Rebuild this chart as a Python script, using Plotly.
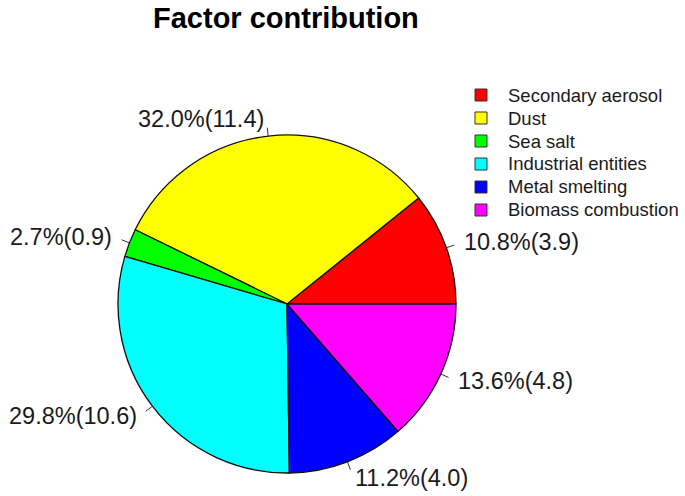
import math
import plotly.graph_objects as go

factors = ["Secondary aerosol", "Dust", "Sea salt", "Industrial entities",
           "Metal smelting", "Biomass combustion"]
pct = [10.8, 32.0, 2.7, 29.8, 11.2, 13.6]
conc = [3.9, 11.4, 0.9, 10.6, 4.0, 4.8]
colors = ["#FF0000", "#FFFF00", "#00FF00", "#00FFFF", "#0000FF", "#FF00FF"]

W, H = 685, 496
CX, CY, R = 287, 304, 169
FONT = "Liberation Sans, Arial, sans-serif"

total = sum(pct)

fig = go.Figure()
fig.add_trace(go.Pie(
    labels=factors, values=pct, sort=False, direction="counterclockwise",
    rotation=90 - 360 * pct[0] / total,
    marker=dict(colors=colors, line=dict(color="#111111", width=1.3)),
    textinfo="none", hoverinfo="label+percent", showlegend=False,
    domain=dict(x=[(CX - R) / W, (CX + R) / W], y=[1 - (CY + R) / H, 1 - (CY - R) / H]),
))


def px(x):
    return x / W


def py(y):
    return 1 - y / H


cum = 0.0
annotations = []
shapes = []
for f, p, c in zip(factors, pct, conc):
    mid = (cum + p / 2) / total * 2 * math.pi
    cum += p
    cx, sy = math.cos(mid), math.sin(mid)
    x0, y0 = CX + R * cx, CY - R * sy
    x1, y1 = CX + 1.05 * R * cx, CY - 1.05 * R * sy
    x2, y2 = CX + 1.1 * R * cx, CY - 1.1 * R * sy
    shapes.append(dict(type="line", xref="paper", yref="paper",
                       x0=px(x0), y0=py(y0), x1=px(x1), y1=py(y1),
                       line=dict(color="#333333", width=1)))
    annotations.append(dict(
        text=f"{p:.1f}%({c:.1f})", xref="paper", yref="paper",
        x=px(x2), y=py(y2), xanchor="left" if cx >= 0 else "right", yanchor="middle",
        showarrow=False, font=dict(size=23.5, color="#1a1a1a", family=FONT)))

# legend (top right)
LX, LY0, LDY, SQ = 481, 95, 23, 12
for i, (f, col) in enumerate(zip(factors, colors)):
    yc = LY0 + i * LDY
    shapes.append(dict(type="rect", xref="paper", yref="paper",
                       x0=px(LX - SQ / 2), x1=px(LX + SQ / 2),
                       y0=py(yc + SQ / 2), y1=py(yc - SQ / 2),
                       fillcolor=col, line=dict(color="#333333", width=1)))
    annotations.append(dict(
        text=f, xref="paper", yref="paper", x=px(506), y=py(yc),
        xanchor="left", yanchor="middle", showarrow=False,
        font=dict(size=18.5, color="#1a1a1a", family=FONT)))

annotations.append(dict(
    text="<b>Factor contribution</b>", xref="paper", yref="paper",
    x=px(285.5), y=py(18), xanchor="center", yanchor="middle", showarrow=False,
    font=dict(size=29, color="#000000", family=FONT)))

fig.update_layout(
    width=W, height=H, margin=dict(l=0, r=0, t=0, b=0),
    paper_bgcolor="white", plot_bgcolor="white",
    annotations=annotations, shapes=shapes,
    showlegend=False,
)

fig.write_html("out.html", config={"displayModeBar": False},
               post_script="document.body.style.margin='0';")
